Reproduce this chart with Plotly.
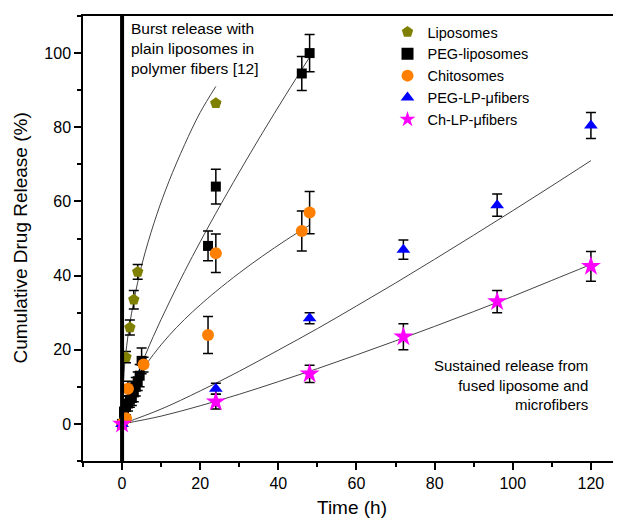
import plotly.graph_objects as go

# measured release data (time in h, cumulative release in %)
lipo_t = [0, 1, 2, 3, 4, 24]
lipo_y = [0, 18, 26, 33.5, 41, 86.5]
lipo_err = [0, 1.5, 2, 2.5, 2, 0]

peg_t = [0, 0.5, 1, 1.5, 2, 2.5, 3, 3.5, 4, 4.5, 5, 22, 24, 46, 48]
peg_y = [0, 3, 5, 5.5, 6.5, 7, 8.5, 10, 11.5, 13, 17, 48, 64, 94.5, 100]
peg_err = [0, 1.5, 1.5, 2, 2, 2, 2.5, 2.5, 2.5, 3, 3.5, 4, 4.7, 4.6, 5]

chito_t = [0, 1, 1.5, 5.5, 22, 24, 46, 48]
chito_y = [0, 1.5, 9.5, 16, 24, 46, 52, 57]
chito_err = [0, 1, 2, 2, 5, 5.2, 5.4, 5.7]

peglp_t = [0, 24, 48, 72, 96, 120]
peglp_y = [0, 9.5, 28.5, 47, 59, 80.5]
peglp_err = [0, 1.5, 1.5, 2.6, 3, 3.5]

chlp_t = [0, 24, 48, 72, 96, 120]
chlp_y = [0, 6, 13.5, 23.5, 33, 42.5]
chlp_err = [0, 2, 2.3, 3.5, 3, 4]

# fitted curves
lipo_fit_t = [0, 0.5, 1, 2, 4, 6, 9, 12, 16, 20, 24]
lipo_fit_y = [0, 13.8, 19.4, 27.2, 38.2, 46.6, 56.8, 65.4, 75.3, 84, 91]

peg_fit_t = [0, 0.5, 1, 2, 4, 8, 12, 16, 20, 24, 30, 36, 42, 48]
peg_fit_y = [0, 2.6, 4.5, 7.8, 13.5, 23.6, 32.6, 41.1, 49.1, 56.8, 67.9, 78.6, 88.9, 98.9]

chito_fit_t = [0, 0.5, 1, 2, 4, 8, 12, 16, 20, 24, 30, 36, 42, 48]
chito_fit_y = [0, 3.7, 5.5, 8.3, 12.5, 18.7, 23.8, 28.2, 32.1, 35.7, 40.7, 45.3, 49.6, 53.6]

peglp_fit_t = [0, 10, 20, 30, 40, 50, 60, 70, 80, 90, 100, 110, 120]
peglp_fit_y = [0, 4, 8.9, 14.2, 19.9, 25.7, 31.8, 38, 44.4, 50.9, 57.5, 64.2, 71]

chlp_fit_t = [0, 10, 20, 30, 40, 50, 60, 70, 80, 90, 100, 110, 120]
chlp_fit_y = [0, 2.1, 4.9, 8, 11.4, 14.9, 18.6, 22.4, 26.3, 30.3, 34.4, 38.7, 43]

font = "Liberation Sans, Arial, sans-serif"

fig = go.Figure()

fits = [
    (lipo_fit_t, lipo_fit_y),
    (peg_fit_t, peg_fit_y),
    (chito_fit_t, chito_fit_y),
    (peglp_fit_t, peglp_fit_y),
    (chlp_fit_t, chlp_fit_y),
]
for ft, fy in fits:
    fig.add_trace(go.Scatter(
        x=ft, y=fy, mode="lines", showlegend=False, hoverinfo="skip",
        line=dict(color="#444444", width=1, shape="spline"),
    ))

series = [
    ("Liposomes", lipo_t, lipo_y, lipo_err, "#808000", "pentagon", 12),
    ("PEG-liposomes", peg_t, peg_y, peg_err, "black", "square", 10),
    ("Chitosomes", chito_t, chito_y, chito_err, "#FF8000", "circle", 12),
    ("PEG-LP-μfibers", peglp_t, peglp_y, peglp_err, "#0000FF", "triangle-up", 12),
    ("Ch-LP-μfibers", chlp_t, chlp_y, chlp_err, "#FF00FF", "star", 15),
]
for name, t, y, err, color, symbol, size in series:
    fig.add_trace(go.Scatter(
        x=t, y=y, mode="markers", name=name,
        marker=dict(color=color, symbol=symbol, size=size, line=dict(width=0)),
        error_y=dict(type="data", array=err, color="black", thickness=1.5, width=5),
    ))

fig.add_vline(x=0, line_width=4, line_color="black")

fig.add_annotation(
    x=0.086, y=0.995, xref="paper", yref="paper", xanchor="left", yanchor="top",
    text="Burst release with<br>plain liposomes in<br>polymer fibers [12]",
    showarrow=False, align="left", font=dict(size=15.5, color="black", family=font),
)
fig.add_annotation(
    x=0.9425, y=0.238, xref="paper", yref="paper", xanchor="right", yanchor="top",
    text="Sustained release from<br>fused liposome and<br>microfibers",
    showarrow=False, align="right", font=dict(size=15, color="black", family=font),
)
# y title as a rotated annotation so it can sit closer to the page edge
fig.add_annotation(
    x=-0.117, y=0.5, xref="paper", yref="paper", xanchor="center", yanchor="middle",
    text="Cumulative Drug Release (%)", textangle=-90,
    showarrow=False, font=dict(size=19, color="black", family=font),
)

# page body adds an 8px offset, so the figure is sized to fit the window
fig.update_layout(
    width=613, height=515,
    margin=dict(l=75, r=0, t=8, b=62),
    plot_bgcolor="white", paper_bgcolor="white",
    font=dict(family=font, color="black", size=16),
    legend=dict(
        x=0.566, y=1.0, xanchor="left", yanchor="top",
        bgcolor="rgba(0,0,0,0)", font=dict(size=14.5),
        tracegroupgap=0, itemsizing="constant",
    ),
)
fig.update_xaxes(
    range=[-10, 127.7], tick0=0, dtick=20, showgrid=False, zeroline=False,
    showline=True, linecolor="black", linewidth=1.5, mirror=True,
    ticks="outside", ticklen=7, tickwidth=1.5, tickcolor="black",
    minor=dict(dtick=10, ticks="outside", ticklen=4, tickcolor="black"),
    title=dict(text="Time (h)", font=dict(size=19), standoff=10),
    tickfont=dict(size=16),
)
fig.update_yaxes(
    range=[-10, 110], tick0=0, dtick=20, showgrid=False, zeroline=False,
    showline=True, linecolor="black", linewidth=1.5,
    ticks="outside", ticklen=7, tickwidth=1.5, tickcolor="black",
    minor=dict(dtick=10, ticks="outside", ticklen=4, tickcolor="black"),
    tickfont=dict(size=16),
)

fig.write_html("out.html")
